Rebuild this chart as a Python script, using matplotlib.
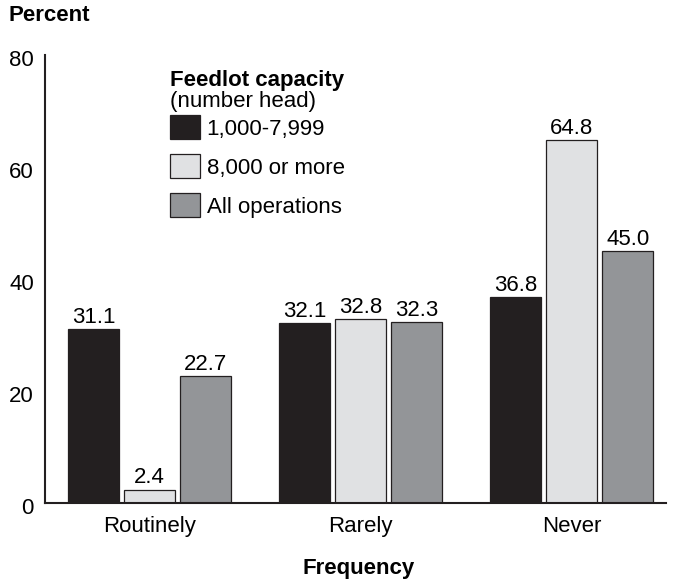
import numpy as np
import matplotlib.pyplot as plt
import matplotlib.transforms as mtransforms
from matplotlib.patches import Patch

plt.rcParams['font.family'] = ['Liberation Sans', 'DejaVu Sans']

categories = ['Routinely', 'Rarely', 'Never']
series = ['1,000-7,999', '8,000 or more', 'All operations']
values = [
    [31.1, 32.1, 36.8],
    [2.4, 32.8, 64.8],
    [22.7, 32.3, 45.0],
]
colors = ['#231f20', '#e0e1e3', '#939598']

fig = plt.figure(figsize=(6.73, 5.85), dpi=100)
ax = fig.add_axes([0.067, 0.14, 0.923, 0.766])

x = np.arange(len(categories))
width = 0.24
step = 0.265
for i, (name, vals) in enumerate(zip(series, values)):
    pos = x + (i - 1) * step
    bars = ax.bar(pos, vals, width, color=colors[i], edgecolor='#231f20',
                  linewidth=0.9, label=name)
    for b, v in zip(bars, vals):
        ax.annotate(f'{v:.1f}', (b.get_x() + b.get_width() / 2, v),
                    xytext=(0, 4.5), textcoords='offset points',
                    ha='center', va='baseline', fontsize=16)

ax.set_xlim(-0.495, 2.448)
ax.set_ylim(0, 80)
ax.set_yticks([0, 20, 40, 60, 80])
ax.set_xticks(x)
ax.set_xticklabels(categories)
ax.tick_params(axis='both', length=0, labelsize=16)
ax.tick_params(axis='x', pad=9)
ax.tick_params(axis='y', pad=8)
# numbers on the y axis sit a little below their gridline in the original
shift = mtransforms.ScaledTranslation(0, -3 / 100, fig.dpi_scale_trans)
for t in ax.get_yticklabels():
    t.set_transform(t.get_transform() + shift)
for s in ['top', 'right']:
    ax.spines[s].set_visible(False)
for s in ['left', 'bottom']:
    ax.spines[s].set_linewidth(1.5)
    ax.spines[s].set_color('#231f20')

fig.text(0.012, 0.974, 'Percent', fontsize=16, fontweight='bold', va='center')
fig.text(0.533, 0.029, 'Frequency', fontsize=16, fontweight='bold',
         ha='center', va='center')

fig.text(0.253, 0.862, 'Feedlot capacity', fontsize=16, fontweight='bold',
         va='center')
fig.text(0.253, 0.827, '(number head)', fontsize=16, va='center')
handles = [Patch(facecolor=c, edgecolor='#231f20', linewidth=0.9) for c in colors]
fig.legend(handles, series, loc='upper left',
           bbox_to_anchor=(170 / 673, 1 - 115 / 585),
           frameon=False, fontsize=16, handlelength=1.35, handleheight=1.3,
           handletextpad=0.3, labelspacing=0.65, borderaxespad=0,
           borderpad=0)

fig.savefig('out.png', dpi=100)
